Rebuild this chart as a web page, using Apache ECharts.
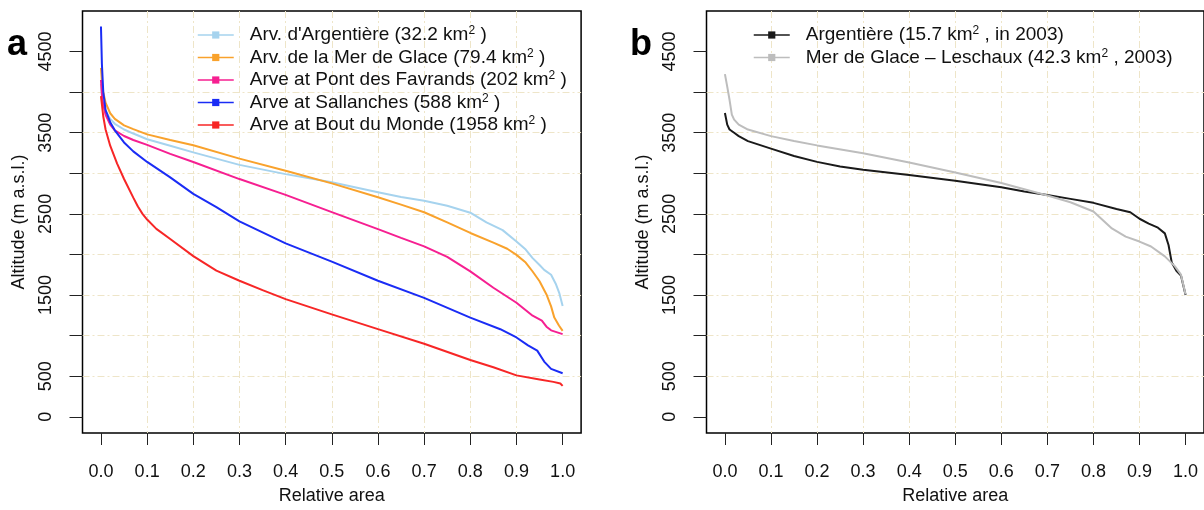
<!DOCTYPE html>
<html><head><meta charset="utf-8">
<script src="https://cdn.jsdelivr.net/npm/echarts@6/dist/echarts.min.js"></script>
<style>html,body{margin:0;padding:0;background:#fff}#c{width:1204px;height:510px}</style>
</head><body><div id="c"></div>
<script>
// ---- tick values ----
const xTicks = [0, 0.1, 0.2, 0.3, 0.4, 0.5, 0.6, 0.7, 0.8, 0.9, 1.0];
const yTicks = [0, 500, 1000, 1500, 2000, 2500, 3000, 3500, 4000, 4500];
const yLabels = [0, 500, 1500, 2500, 3500, 4500];

// ---- panel a ----
const argX = [0, 0.003, 0.01, 0.02, 0.03, 0.05, 0.07, 0.1, 0.15, 0.2, 0.3, 0.4, 0.5, 0.6, 0.65, 0.7, 0.75, 0.8, 0.835, 0.87, 0.9, 0.92, 0.935, 0.95, 0.96, 0.975, 0.985, 0.993, 1.0];
const argZ = [4100, 3900, 3770, 3670, 3610, 3540, 3490, 3420, 3340, 3258, 3104, 2990, 2889, 2766, 2708, 2662, 2600, 2515, 2395, 2300, 2160, 2060, 1955, 1870, 1810, 1750, 1640, 1520, 1365];

const mdgX = [0, 0.003, 0.01, 0.02, 0.03, 0.05, 0.07, 0.1, 0.15, 0.2, 0.3, 0.4, 0.5, 0.6, 0.65, 0.7, 0.75, 0.8, 0.85, 0.88, 0.9, 0.92, 0.935, 0.95, 0.965, 0.975, 0.982, 0.992, 1.0];
const mdgZ = [4300, 4050, 3870, 3740, 3670, 3590, 3545, 3480, 3410, 3345, 3181, 3031, 2876, 2705, 2614, 2520, 2395, 2265, 2145, 2070, 1995, 1900, 1790, 1670, 1507, 1360, 1222, 1125, 1059];

const pdfX = [0, 0.003, 0.01, 0.02, 0.03, 0.05, 0.07, 0.1, 0.15, 0.2, 0.3, 0.4, 0.5, 0.6, 0.65, 0.7, 0.75, 0.8, 0.85, 0.9, 0.935, 0.955, 0.965, 0.975, 1.0];
const pdfZ = [4150, 3900, 3720, 3600, 3530, 3460, 3410, 3350, 3240, 3140, 2929, 2734, 2522, 2312, 2205, 2100, 1970, 1792, 1590, 1405, 1245, 1185, 1110, 1065, 1018];

const salX = [0, 0.002, 0.005, 0.01, 0.02, 0.03, 0.05, 0.07, 0.1, 0.15, 0.2, 0.25, 0.3, 0.4, 0.5, 0.6, 0.7, 0.8, 0.865, 0.9, 0.925, 0.945, 0.96, 0.975, 1.0];
const salZ = [4810, 4350, 4000, 3780, 3630, 3530, 3380, 3270, 3140, 2950, 2746, 2583, 2408, 2136, 1912, 1676, 1465, 1222, 1079, 977, 880, 815, 680, 590, 537];

const bdmX = [0, 0.005, 0.01, 0.02, 0.035, 0.05, 0.07, 0.08, 0.09, 0.1, 0.12, 0.15, 0.2, 0.25, 0.3, 0.35, 0.4, 0.5, 0.6, 0.7, 0.8, 0.85, 0.9, 0.95, 0.98, 0.995, 1.0];
const bdmZ = [3950, 3700, 3540, 3340, 3120, 2930, 2700, 2590, 2500, 2430, 2315, 2190, 1980, 1800, 1676, 1560, 1450, 1262, 1080, 900, 700, 610, 510, 460, 430, 410, 380];

// ---- panel b ----
const argGX = [0, 0.005, 0.01, 0.02, 0.03, 0.05, 0.1, 0.15, 0.2, 0.25, 0.3, 0.4, 0.5, 0.6, 0.65, 0.7, 0.75, 0.8, 0.85, 0.88, 0.9, 0.92, 0.94, 0.955, 0.963, 0.97, 0.98, 0.99, 1.0];
const argGZ = [3743, 3600, 3540, 3499, 3458, 3397, 3304, 3214, 3141, 3084, 3043, 2978, 2909, 2827, 2775, 2734, 2685, 2636, 2560, 2520, 2440, 2380, 2330, 2260, 2117, 1900, 1800, 1740, 1500];

const lesX = [0, 0.005, 0.01, 0.015, 0.02, 0.03, 0.05, 0.1, 0.15, 0.2, 0.3, 0.4, 0.5, 0.6, 0.7, 0.75, 0.8, 0.84, 0.87, 0.9, 0.925, 0.955, 0.977, 0.99, 1.0];
const lesZ = [4223, 4068, 3906, 3723, 3661, 3600, 3539, 3458, 3397, 3344, 3247, 3133, 3011, 2880, 2726, 2644, 2530, 2321, 2220, 2159, 2098, 1976, 1853, 1751, 1507];

// ---- names (prefix, superscript follows, suffix) ----
const namesA = [
  ["Arv. d'Argentière (32.2 km", " )"],
  ["Arv. de la Mer de Glace (79.4 km", " )"],
  ["Arve at Pont des Favrands (202 km", " )"],
  ["Arve at Sallanches (588 km", " )"],
  ["Arve at Bout du Monde (1958 km", " )"]
];
const namesB = [
  ["Argentière (15.7 km", " , in 2003)"],
  ["Mer de Glace – Leschaux (42.3 km", " , 2003)"]
];
const colorsA = ['#a6d3ee', '#f9a22c', '#f61f91', '#1a2cf5', '#f72626'];
const colorsB = ['#1a1a1a', '#bdbdbd'];

const FONT = 'Liberation Sans';
const TXT = '#111';
const FS = 18;
const LFS = 19;

const fullName = p => p[0] + '2' + p[1];
const richMap = {};
namesA.concat(namesB).forEach(p => { richMap[fullName(p)] = '{g|}{t|' + p[0] + '}{s|2}{t|' + p[1] + '}'; });

function zip(xs, zs) { return xs.map((x, i) => [x, zs[i]]); }

const gridLine = {
  show: true, showMinLine: false, showMaxLine: false,
  lineStyle: { color: '#eee5c8', width: 1, type: [7, 3, 2, 3] }
};

function mkX(gi) {
  return {
    type: 'value', gridIndex: gi, min: -0.04, max: 1.04, position: 'bottom',
    name: 'Relative area', nameLocation: 'middle', nameGap: 54,
    nameTextStyle: { fontFamily: FONT, fontSize: FS, color: TXT },
    axisLine: { show: false, onZero: false },
    axisTick: { show: true, inside: false, length: 12, customValues: xTicks, lineStyle: { color: '#222', width: 1 } },
    axisLabel: { customValues: xTicks, margin: 30, formatter: v => Number(v).toFixed(1),
      fontFamily: FONT, fontSize: FS, color: TXT },
    splitLine: gridLine
  };
}
function mkY(gi) {
  return {
    type: 'value', gridIndex: gi, min: -200, max: 5000, position: 'left',
    name: 'Altitude (m a.s.l.)', nameLocation: 'middle', nameGap: 54, nameRotate: 90,
    nameTextStyle: { fontFamily: FONT, fontSize: FS, color: TXT },
    axisLine: { show: false, onZero: false },
    axisTick: { show: true, inside: false, length: 13, customValues: yTicks, lineStyle: { color: '#222', width: 1 } },
    axisLabel: { customValues: yLabels, rotate: 90, margin: 27, formatter: v => String(v),
      fontFamily: FONT, fontSize: FS, color: TXT },
    splitLine: gridLine
  };
}

const seriesA = [[argX, argZ], [mdgX, mdgZ], [pdfX, pdfZ], [salX, salZ], [bdmX, bdmZ]].map((d, i) => ({
  type: 'line', name: fullName(namesA[i]), xAxisIndex: 0, yAxisIndex: 0,
  data: zip(d[0], d[1]), showSymbol: false, symbol: 'rect', smooth: false,
  lineStyle: { width: 2, color: colorsA[i] }, itemStyle: { color: colorsA[i] }, silent: true
}));
const seriesB = [[argGX, argGZ], [lesX, lesZ]].map((d, i) => ({
  type: 'line', name: fullName(namesB[i]), xAxisIndex: 1, yAxisIndex: 1,
  data: zip(d[0], d[1]), showSymbol: false, symbol: 'rect', smooth: false,
  lineStyle: { width: 2, color: colorsB[i] }, itemStyle: { color: colorsB[i] }, silent: true
}));

const rich = {
  g: { width: 11, fontSize: LFS, lineHeight: 20 },
  t: { fontFamily: FONT, fontSize: LFS, color: TXT, lineHeight: 20 },
  s: { fontFamily: FONT, fontSize: 12, color: TXT, lineHeight: 9, verticalAlign: 'top' }
};
function mkLegend(names, left) {
  return {
    data: names.map(fullName), left: left, top: 25, orient: 'vertical',
    itemWidth: 36, itemHeight: 9, itemGap: 3, padding: 0, selectedMode: false,
    lineStyle: { width: 1.5 },
    formatter: n => richMap[n],
    textStyle: { fontFamily: FONT, fontSize: LFS, color: TXT, rich: rich }
  };
}

const chart = echarts.init(document.getElementById('c'), null, { renderer: 'canvas' });
chart.setOption({
  animation: false,
  backgroundColor: '#fff',
  title: [
    { text: 'a', left: 7, top: 27, padding: 0, textStyle: { fontFamily: FONT, fontSize: 36, fontWeight: 'bold', color: '#000' } },
    { text: 'b', left: 630, top: 27, padding: 0, textStyle: { fontFamily: FONT, fontSize: 36, fontWeight: 'bold', color: '#000' } }
  ],
  grid: [
    { left: 82.5, top: 11, width: 498.6, height: 425.6, show: true, borderColor: '#000', borderWidth: 1.5, backgroundColor: 'transparent' },
    { left: 706.5, top: 11, width: 499.3, height: 425.6, show: true, borderColor: '#000', borderWidth: 1.5, backgroundColor: 'transparent' }
  ],
  xAxis: [mkX(0), mkX(1)],
  yAxis: [mkY(0), mkY(1)],
  legend: [mkLegend(namesA, 197), mkLegend(namesB, 753)],
  series: seriesA.concat(seriesB)
});
</script>
</body></html>
